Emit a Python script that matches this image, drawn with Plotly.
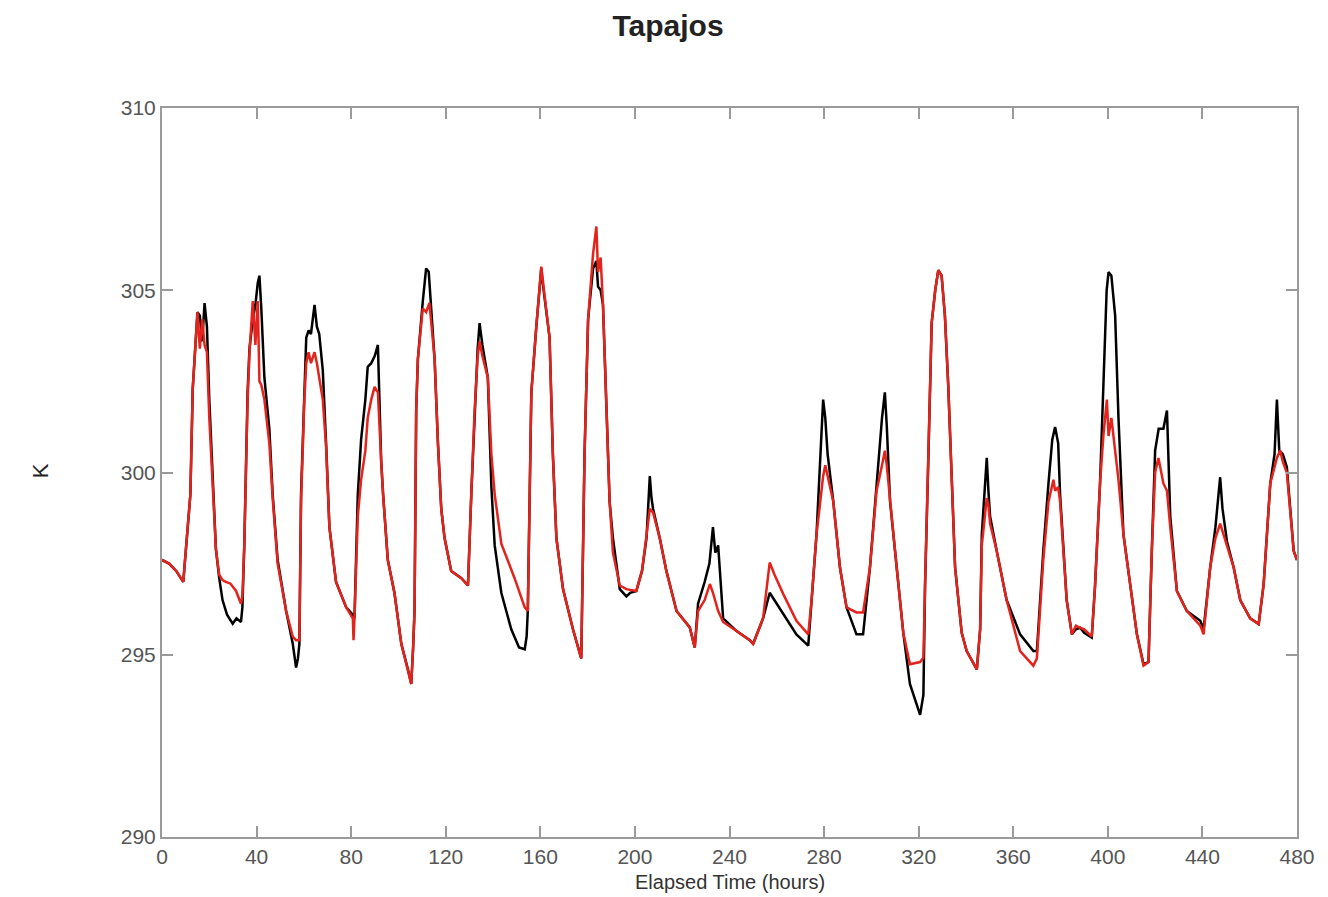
import plotly.graph_objects as go

# Observed (black) series: elapsed hours and temperature (K)
obs_hours = [0, 3, 6, 9, 10, 12, 13, 15, 16, 17, 18, 19, 20, 21.4, 22.8, 24.2, 25.6, 27.5, 29.9, 31.5, 33.4, 34.0,
             34.8, 36.2, 37.0, 38.4, 39.5, 40.5, 41.2, 42.0, 43.3, 45.4, 46.8, 48.9, 52.5, 55.3, 56.7, 57.5, 58.1,
             58.8, 60.2, 61, 62, 63, 64.5, 65.5, 66.5, 68, 69.4, 70.8, 73.6, 77.9, 80.7, 81.4, 82.8, 84.2, 86, 87,
             88.5, 90, 91.3, 92, 92.7, 93.5, 95.5, 98.3, 101.2, 104, 105.4, 106.2, 106.8, 107.5, 108.2, 110.3, 111.7,
             112.8, 113.5, 115.3, 116.7, 118.1, 119.5, 122.3, 126.6, 129.4, 130.8, 132.2, 133.5, 134.3, 135.5, 137.8,
             139.3, 140.7, 143.5, 147.7, 151, 153.4, 154.2, 154.7, 155.5, 156.2, 158.3, 159.5, 160.4, 161, 162.5,
             163.9, 165.3, 166.8, 169.6, 173.8, 177.3, 178.0, 178.7, 180.2, 182.3, 183.7, 184.4, 185.5, 186.5, 187.9,
             189.3, 190.7, 193.6, 196.4, 198, 200.6, 203, 204.9, 206.3, 207, 207.7, 210.5, 213.3, 217.6, 223.2,
             225.3, 226.7, 229.5, 231.5, 233, 234, 235.2, 237.3, 243, 248.6, 250, 254.2, 257, 259, 262.7, 268.3,
             273.3, 274.7, 276.8, 279.6, 280.5, 281.5, 283.9, 286.7, 289.5, 293.7, 296.5, 299.4, 302.2, 304.5,
             305.7, 306.5, 307.9, 310.7, 313.5, 316.3, 320.6, 322, 322.7, 324, 325.5, 327, 328.3, 329.7, 331.1,
             332.5, 334, 335.4, 338.2, 340.3, 344.6, 346, 346.7, 348.2, 348.8, 349.5, 350.2, 353, 357.2, 362.9,
             368.5, 370, 372.7, 374.9, 376.5, 377.7, 379, 379.8, 381.2, 382.6, 384.8, 386.5, 388.3, 390, 393.2,
             394.6, 396.7, 398.1, 399.5, 400.3, 401.5, 403.1, 404.5, 406.6, 409.4, 412.3, 415.1, 417.2, 418.6, 420,
             421.5, 423.5, 425, 426.4, 429.2, 433.4, 439.1, 440.5, 443.3, 445.5, 447.5, 448.5, 450.4, 453.2, 456,
             460.2, 463.8, 465.9, 468.7, 470.5, 471.5, 472.5, 474, 475.7, 478.6, 480]
obs_k = [297.6, 297.5, 297.3, 297.0, 297.8, 299.4, 302.3, 304.4, 304.3, 303.6, 304.65, 304.0, 302.0, 299.9, 297.9,
         297.1, 296.5, 296.1, 295.85, 296.0, 295.9, 296.3, 298.0, 302.2, 303.4, 304.2, 304.6, 305.2, 305.4, 304.5,
         302.6, 301.2, 299.4, 297.6, 296.2, 295.3, 294.65, 294.9, 295.3, 299.4, 302.2, 303.7, 303.9, 303.8, 304.6,
         304.0, 303.8, 302.8, 300.8, 298.5, 297.0, 296.3, 296.1, 296.0, 299.4, 300.9, 302.0, 302.9, 303.0, 303.2,
         303.5, 302.0, 300.3, 299.4, 297.6, 296.7, 295.3, 294.6, 294.2, 295.2, 296.2, 301.7, 303.1, 304.7, 305.6,
         305.5, 304.8, 303.1, 300.8, 299.0, 298.2, 297.3, 297.1, 296.9, 299.4, 301.7, 303.4, 304.1, 303.5, 302.6,
         299.6, 298.0, 296.7, 295.7, 295.2, 295.15, 295.5, 296.2, 299.4, 302.2, 304.0, 305.0, 305.6, 305.2, 304.4,
         303.7, 300.5, 298.2, 296.8, 295.7, 294.9, 297.8, 300.5, 304.2, 305.6, 305.8, 305.1, 305.0, 304.6, 301.9,
         299.2, 298.2, 296.8, 296.6, 296.7, 296.75, 297.3, 298.2, 299.9, 299.3, 299.0, 298.2, 297.3, 296.2, 295.75,
         295.2, 296.4, 297.0, 297.5, 298.5, 297.8, 298.0, 296.0, 295.65, 295.4, 295.3, 296.0, 296.7, 296.5, 296.1,
         295.56, 295.25, 296.5, 298.3, 302.0, 301.5, 300.5, 299.2, 297.4, 296.3, 295.56, 295.56, 297.4, 299.7,
         301.5, 302.2, 301.3, 299.2, 297.4, 295.6, 294.2, 293.35, 293.9, 296.9, 300.15, 304.1, 305.0, 305.55,
         305.4, 304.3, 302.4, 299.7, 297.4, 295.6, 295.1, 294.6, 295.7, 298.3, 299.8, 300.4, 299.5, 298.8, 297.85,
         296.5, 295.56, 295.1, 295.1, 297.85, 299.7, 300.9, 301.25, 300.8, 299.4, 297.85, 296.5, 295.56, 295.7,
         295.74, 295.6, 295.47, 296.9, 299.7, 302.4, 305.0, 305.5, 305.4, 304.3, 301.5, 298.3, 296.9, 295.56,
         294.74, 294.8, 297.85, 300.6, 301.2, 301.2, 301.7, 298.8, 296.75, 296.2, 295.93, 295.7, 297.4, 298.5,
         299.87, 299.0, 298.1, 297.4, 296.5, 296.0, 295.84, 296.94, 299.7, 300.5, 302.0, 300.6, 300.5, 300.15,
         297.85, 297.6]

# Model (red) series
mod_hours = [0, 3, 6, 9, 10, 12, 13, 15, 16, 17, 18, 19, 20, 21.4, 22.8, 24.2, 25.6, 27, 29, 31.3, 33.4, 34, 34.8,
             36.2, 37, 38.4, 39.5, 40.5, 41.2, 42, 43.3, 45.4, 46.8, 48.9, 52.5, 55.3, 56.7, 58.1, 58.8, 60.2, 61,
             62, 63, 64.5, 65.5, 66.5, 68, 69.4, 70.8, 73.6, 77.9, 80.7, 81, 81.4, 82.8, 84.2, 86, 87, 88.5, 89.9,
             91.3, 92.7, 93.5, 95.5, 98.3, 101.2, 104, 105.4, 106.2, 106.8, 107.5, 108.2, 110.3, 111.7, 113.1,
             113.5, 115.3, 116.7, 118.1, 119.5, 122.3, 126.6, 129.4, 130.8, 132.2, 133.5, 134.3, 135.5, 137.8,
             139.3, 140.7, 143.5, 149.1, 153.4, 154.7, 155.5, 156.2, 158.3, 159.5, 160.4, 161, 162.5, 163.9, 165.3,
             166.8, 169.6, 173.8, 177.3, 178.0, 178.7, 180.2, 182.3, 183.7, 184.4, 185.5, 186.5, 187.9, 189.3,
             190.7, 193.6, 196.4, 200.6, 203, 204.9, 206.3, 207.7, 210.5, 213.3, 217.6, 223.2, 225.3, 226.7, 229.5,
             231.7, 233, 235.2, 237.3, 243, 248.6, 250, 254.2, 257, 259, 262.7, 268.3, 273.3, 274.7, 276.8, 279.6,
             280.5, 281.5, 283.9, 286.7, 289.5, 293.7, 296.5, 299.4, 302.2, 304.5, 305.7, 306.5, 307.9, 310.7,
             313.5, 316.3, 320.6, 322, 322.7, 324, 325.5, 327, 328.3, 329.7, 331.1, 332.5, 334, 335.4, 338.2, 340.3,
             344.6, 346, 346.7, 348.2, 348.8, 349.5, 350.2, 353, 357.2, 362.9, 368.5, 370, 372.7, 374.9, 377, 377.7,
             379, 379.8, 381.2, 382.6, 384.8, 386.5, 388.3, 390, 393.2, 394.6, 396.7, 398.1, 399.6, 400.3, 401.5,
             403.1, 403.8, 404.5, 406.6, 409.4, 412.3, 415.1, 417.2, 418.6, 420, 421.4, 423.5, 425, 426.4, 429.2,
             433.4, 439.1, 440.5, 443.3, 445.5, 447.5, 448.5, 450.4, 453.2, 456, 460.2, 463.8, 465.9, 468.7, 470.5,
             471.5, 472.9, 474, 475.7, 478.6, 480]
mod_k = [297.6, 297.5, 297.3, 297.0, 297.8, 299.4, 302.3, 304.4, 303.4, 304.2, 303.5, 303.3, 301.5, 299.8, 297.9,
         297.2, 297.05, 297.0, 296.95, 296.75, 296.4, 296.6, 298.0, 302.0, 303.3, 304.7, 303.5, 304.7, 302.5, 302.4,
         302.0, 300.8, 299.3, 297.5, 296.2, 295.5, 295.4, 295.4, 299.2, 302.0, 303.0, 303.3, 303.0, 303.3, 303.0,
         302.6, 302.0, 300.7, 298.5, 297.0, 296.3, 296.0, 295.4, 296.0, 298.8, 299.8, 300.6, 301.5, 302.0, 302.35,
         302.2, 300.3, 299.4, 297.6, 296.7, 295.3, 294.6, 294.2, 295.2, 296.2, 301.7, 303.1, 304.5, 304.4, 304.65,
         304.4, 303.1, 300.8, 299.0, 298.2, 297.3, 297.1, 296.9, 299.4, 301.7, 303.2, 303.6, 303.2, 302.6, 300.5,
         299.4, 298.05, 297.1, 296.3, 296.2, 299.4, 302.2, 304.0, 305.0, 305.65, 305.3, 304.4, 303.7, 300.5, 298.2,
         296.8, 295.7, 294.9, 297.8, 300.5, 304.2, 306.0, 306.75, 305.5, 305.9, 304.6, 301.9, 299.2, 297.8, 296.9,
         296.8, 296.75, 297.3, 298.2, 299.0, 298.9, 298.2, 297.3, 296.2, 295.75, 295.2, 296.2, 296.5, 296.94, 296.7,
         296.2, 295.9, 295.65, 295.4, 295.3, 296.0, 297.53, 297.2, 296.67, 295.93, 295.56, 296.5, 298.3, 299.9,
         300.2, 299.9, 299.2, 297.4, 296.3, 296.16, 296.16, 297.4, 299.5, 300.2, 300.6, 300.2, 299.2, 297.4, 295.6,
         294.74, 294.8, 294.92, 296.9, 300.15, 304.1, 305.0, 305.55, 305.4, 304.3, 302.4, 299.7, 297.4, 295.6,
         295.1, 294.6, 295.7, 298.0, 299.0, 299.3, 299.1, 298.6, 297.85, 296.5, 295.1, 294.7, 294.9, 297.6, 299.2,
         299.8, 299.5, 299.6, 299.2, 297.85, 296.5, 295.56, 295.8, 295.74, 295.7, 295.5, 296.9, 299.7, 301.0, 302.0,
         301.0, 301.5, 300.6, 300.15, 299.8, 298.3, 296.9, 295.56, 294.7, 294.8, 297.85, 300.0, 300.4, 299.7, 299.5,
         298.5, 296.75, 296.2, 295.8, 295.56, 297.4, 298.2, 298.6, 298.4, 298.0, 297.4, 296.5, 296.0, 295.84,
         296.94, 299.7, 300.2, 300.4, 300.6, 300.3, 300.0, 297.85, 297.6]

x_ticks = [0, 40, 80, 120, 160, 200, 240, 280, 320, 360, 400, 440, 480]
y_ticks = [290, 295, 300, 305, 310]

FONT = "Liberation Sans, Arial, sans-serif"

fig = go.Figure()
fig.add_trace(go.Scatter(x=obs_hours, y=obs_k, mode="lines",
                         line=dict(color="#000000", width=2.5), showlegend=False))
fig.add_trace(go.Scatter(x=mod_hours, y=mod_k, mode="lines",
                         line=dict(color="#e3231c", width=2.5), showlegend=False))

axis_common = dict(
    showline=True, linecolor="#9a9a9a", linewidth=2, mirror="ticks",
    ticks="inside", ticklen=11, tickwidth=2, tickcolor="#9a9a9a",
    showgrid=False, zeroline=False,
    tickfont=dict(family=FONT, size=21, color="#555555"),
)

# page body has an 8px margin, so the figure is sized to fit the window
W, H = 1320, 889
fig.update_layout(
    width=W, height=H,
    margin=dict(l=154, r=31, t=100, b=60),
    paper_bgcolor="white", plot_bgcolor="white",
    title=dict(text="<b>Tapajos</b>", x=0.5, xanchor="center", y=1 - 17 / H, yanchor="middle",
               font=dict(family=FONT, size=30, color="#222222")),
    xaxis=dict(range=[0, 480], tickvals=x_ticks, ticktext=[str(v) for v in x_ticks], **axis_common),
    yaxis=dict(range=[290, 310], tickvals=y_ticks, ticktext=[str(v) for v in y_ticks], **axis_common),
    annotations=[
        dict(text="Elapsed Time (hours)", xref="paper", yref="paper", x=0.5, y=-0.062,
             xanchor="center", yanchor="middle", showarrow=False,
             font=dict(family=FONT, size=20, color="#333333")),
        dict(text="K", xref="paper", yref="paper", x=-0.1075, y=0.503, textangle=-90,
             xanchor="center", yanchor="middle", showarrow=False,
             font=dict(family=FONT, size=22, color="#222222")),
    ],
)

fig.write_html("out.html")
